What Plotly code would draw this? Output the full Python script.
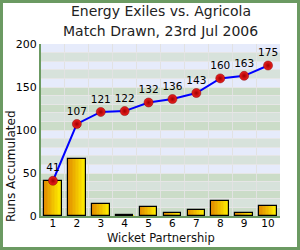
import plotly.graph_objects as go

wickets = [1, 2, 3, 4, 5, 6, 7, 8, 9, 10]
accumulated = [41, 107, 121, 122, 132, 136, 143, 160, 163, 175]
partnership = [41, 66, 14, 1, 10, 4, 7, 17, 3, 12]
y_ticks = [0, 50, 100, 150, 200]
title_lines = ['Energy Exiles vs. Agricola', 'Match Drawn, 23rd Jul 2006']
x_title = 'Wicket Partnership'
y_title = 'Runs Accumulated'

W, H = 300, 250
ML, MR, MT, MB = 41, 20, 44, 34
BAR_W = 0.74
pw = W - ML - MR
ph = H - MT - MB


def py(ypx):
    return (H - MB - ypx) / ph


def px(xpx):
    return (xpx - ML) / pw


fig = go.Figure()

# gradient bars built from slices
N = 12
c0 = (226, 140, 0)
c1 = (255, 240, 0)
for i in range(N):
    t = i / (N - 1)
    col = tuple(int(c0[k] + (c1[k] - c0[k]) * t) for k in range(3))
    fig.add_trace(go.Bar(
        x=wickets, y=partnership, width=BAR_W / N,
        offset=-BAR_W / 2 + i * BAR_W / N,
        marker=dict(color='rgb(%d,%d,%d)' % col, line=dict(width=0)),
        hoverinfo='skip', showlegend=False))
fig.add_trace(go.Bar(
    x=wickets, y=partnership, width=BAR_W, offset=-BAR_W / 2,
    marker=dict(color='rgba(0,0,0,0)', line=dict(color='black', width=1.2)),
    showlegend=False))

fig.add_trace(go.Scatter(
    x=wickets, y=accumulated, mode='lines+markers+text',
    text=[str(v) for v in accumulated], textposition='top center',
    textfont=dict(family='DejaVu Sans', size=10.5, color='black'),
    line=dict(color='#0000FF', width=2),
    marker=dict(size=9, color='#F02020',
                gradient=dict(type='radial', color='#A00000'),
                line=dict(color='#800000', width=0.5)),
    showlegend=False))

# background bands every 10 units
blue, gg, green = '#E6EBFB', '#D7E2DB', '#CBDCC8'
shapes = []
for b in range(20):
    lo = b * 10
    block = lo // 50
    idx = 4 - (lo % 50) // 10
    if block % 2 == 1:
        col = blue if idx % 2 == 0 else gg
    else:
        col = green if idx % 2 == 0 else gg
    shapes.append(dict(type='rect', xref='paper', yref='y', x0=0, x1=1,
                       y0=lo, y1=lo + 10, fillcolor=col, line=dict(width=0),
                       layer='below'))

shapes.append(dict(type='rect', xref='paper', yref='paper',
                   x0=px(1.5), x1=px(W - 1.5), y0=py(H - 1.5), y1=py(1.5),
                   line=dict(color='#6B9A62', width=3), fillcolor='rgba(0,0,0,0)',
                   layer='above'))

annotations = [
    dict(text=title_lines[0], xref='paper', yref='paper', x=0.5, y=py(11),
         xanchor='center', yanchor='middle', showarrow=False,
         font=dict(size=14, color='#222222')),
    dict(text=title_lines[1], xref='paper', yref='paper', x=0.5, y=py(31),
         xanchor='center', yanchor='middle', showarrow=False,
         font=dict(size=14, color='#222222')),
    dict(text=x_title, xref='paper', yref='paper', x=0.5, y=py(237.5),
         xanchor='center', yanchor='middle', showarrow=False,
         font=dict(size=11.5, color='#111111')),
    dict(text=y_title, xref='paper', yref='paper', x=px(11), y=py(166),
         xanchor='center', yanchor='middle', showarrow=False, textangle=-90,
         font=dict(size=12, color='#111111')),
]

fig.update_layout(
    width=W, height=H, margin=dict(l=ML, r=MR, t=MT, b=MB, autoexpand=False),
    paper_bgcolor='white', plot_bgcolor='white',
    barmode='overlay', bargap=0,
    shapes=shapes, annotations=annotations,
    font=dict(family='DejaVu Sans', size=11, color='black'),
    xaxis=dict(range=[0.5, 10.5], tickvals=wickets, ticks='', showgrid=False,
               automargin=False, ticklabelstandoff=-4,
               showline=True, linecolor='#6B9A62', linewidth=2,
               tickfont=dict(size=10.5),
               minor=dict(tick0=0.5, dtick=1, showgrid=True, gridcolor='#E2E2E2', gridwidth=1)),
    yaxis=dict(range=[0, 200], tickvals=y_ticks, ticks='', showgrid=False,
               automargin=False,
               showline=True, linecolor='#6B9A62', linewidth=2, zeroline=False,
               tickfont=dict(size=11),
               minor=dict(dtick=10, showgrid=True, gridcolor='#E6E6E6', gridwidth=1)),
)

fig.write_html('out.html')
